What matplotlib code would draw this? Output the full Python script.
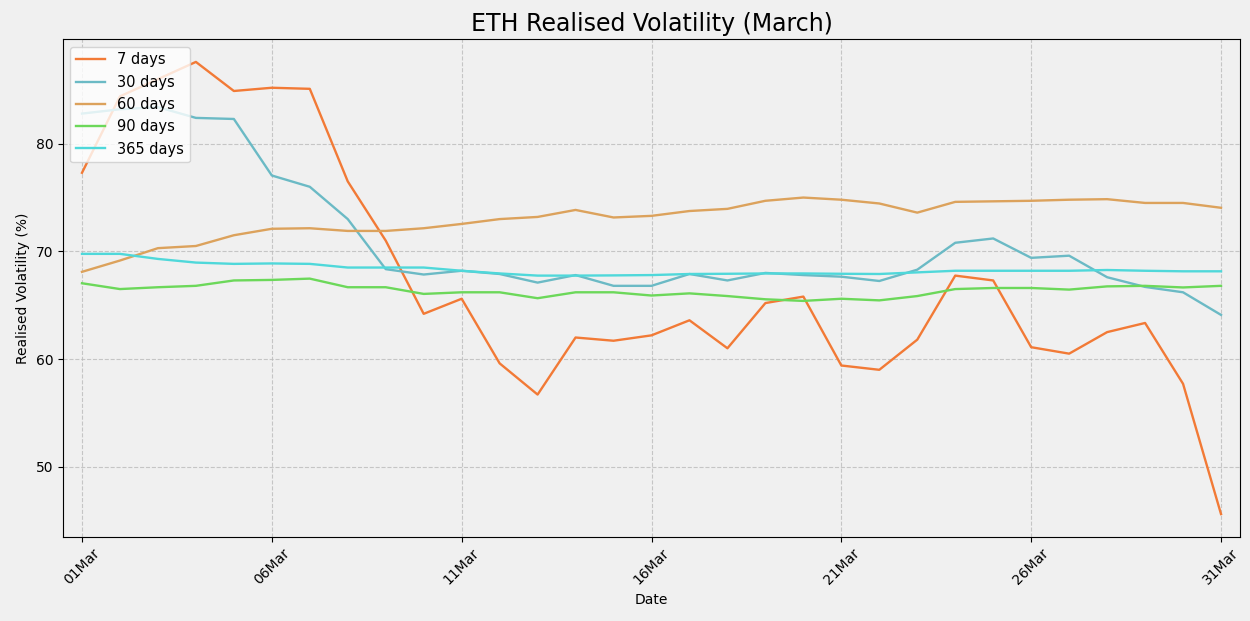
import numpy as np
import pandas as pd
import matplotlib
matplotlib.use("Agg")
import matplotlib.pyplot as plt
import matplotlib.dates as mdates

dates = pd.date_range("2024-03-01", "2024-03-31", freq="D")

vol_7d = [77.3, 84.4, 86.0, 87.6, 84.9, 85.2, 85.1, 76.5, 71.0, 64.2,
          65.6, 59.6, 56.7, 62.0, 61.7, 62.2, 63.6, 61.0, 65.2, 65.8,
          59.4, 59.0, 61.8, 67.75, 67.3, 61.1, 60.5, 62.5, 63.35, 57.7, 45.6]
vol_30d = [82.8, 83.2, 83.4, 82.4, 82.3, 77.05, 76.0, 73.0, 68.35, 67.85,
           68.2, 67.9, 67.1, 67.8, 66.8, 66.8, 67.9, 67.3, 68.0, 67.8,
           67.65, 67.25, 68.3, 70.8, 71.2, 69.4, 69.6, 67.6, 66.7, 66.2, 64.1]
vol_60d = [68.1, 69.15, 70.3, 70.5, 71.5, 72.1, 72.15, 71.9, 71.9, 72.15,
           72.55, 73.0, 73.2, 73.85, 73.15, 73.3, 73.75, 73.95, 74.7, 75.0,
           74.8, 74.45, 73.6, 74.6, 74.65, 74.7, 74.8, 74.85, 74.5, 74.5, 74.05]
vol_90d = [67.04, 66.5, 66.67, 66.8, 67.3, 67.35, 67.47, 66.67, 66.67, 66.05,
           66.2, 66.2, 65.65, 66.2, 66.2, 65.9, 66.1, 65.85, 65.55, 65.4,
           65.6, 65.45, 65.85, 66.5, 66.6, 66.6, 66.45, 66.75, 66.8, 66.65, 66.8]
vol_365d = [69.77, 69.77, 69.3, 68.96, 68.84, 68.88, 68.84, 68.5, 68.5, 68.5,
            68.2, 67.95, 67.75, 67.75, 67.77, 67.8, 67.9, 67.92, 67.95, 67.95,
            67.92, 67.9, 68.05, 68.2, 68.2, 68.2, 68.2, 68.27, 68.2, 68.15, 68.15]

series = [
    ("7 days", vol_7d, "#f27a36"),
    ("30 days", vol_30d, "#6bbac5"),
    ("60 days", vol_60d, "#dca25c"),
    ("90 days", vol_90d, "#6cd85a"),
    ("365 days", vol_365d, "#4fd8da"),
]

fig = plt.figure(figsize=(12.5, 6.21), dpi=100, facecolor="#f0f0f0")
ax = fig.add_axes([0.0504, 0.1358, 0.9416, 0.8009])
ax.set_facecolor("#f0f0f0")

for label, vals, color in series:
    ax.plot(dates, vals, label=label, color=color, linewidth=1.7)

# half a day of padding on each side
ax.set_xlim(dates[0] - pd.Timedelta(hours=12), dates[-1] + pd.Timedelta(hours=12))
ax.xaxis.set_major_locator(mdates.DayLocator(bymonthday=[1, 6, 11, 16, 21, 26, 31]))
ax.xaxis.set_major_formatter(mdates.DateFormatter("%d%b"))
plt.setp(ax.get_xticklabels(), rotation=45)
ax.set_yticks([50, 60, 70, 80])

ax.grid(True, linestyle="--", color="#bbbbbb", alpha=0.8, linewidth=0.8)
ax.set_title("ETH Realised Volatility (March)", fontsize=17)
ax.set_xlabel("Date")
ax.set_ylabel("Realised Volatility (%)")
ax.legend(loc="upper left", fontsize=10.5)

fig.savefig("out.png", dpi=100, facecolor=fig.get_facecolor())
